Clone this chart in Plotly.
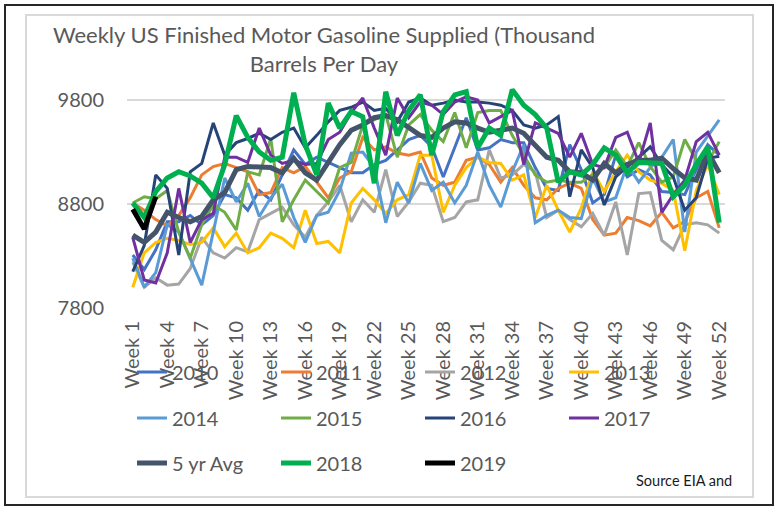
import plotly.graph_objects as go

# ---------------- data ----------------
weeks = list(range(1, 53))
tick_weeks = list(range(1, 53, 3))
tick_labels = ["Week %d" % w for w in tick_weeks]
y_ticks = [7800, 8800, 9800]
y_tick_labels = ["7800", "8800", "9800"]

y2010 = [8310, 8170, 8360, 8630, 8630, 8690, 8600, 8690, 8890, 8860,
         8740, 8930, 8840, 9080, 9320, 9180, 9250, 9200, 9150, 9100,
         9100, 9180, 9220, 9320, 9420, 9460, 9350, 9060, 9350, 9630,
         9320, 9340, 9420, 9390, 9390, 9150, 8950, 8930, 9370, 9130,
         8810, 8890, 9270, 9060, 9130, 9080, 8920, 8910, 8890, 9130,
         9370, 9270]
y2011 = [8810, 8740, 8650, 8590, 8690, 8860, 9080, 9160, 9190, 9150,
         9110, 8890, 8910, 9150, 9100, 9160, 9010, 8860, 9050, 9110,
         9440, 9320, 9350, 9290, 9270, 9300, 9050, 8980, 9010, 9220,
         9250, 9180, 9010, 9150, 8980, 8860, 8840, 8950, 9000, 8950,
         8650, 8500, 8520, 8670, 8640, 8590, 8720, 8570, 8630, 8860,
         8920, 8570]
y2012 = [8240, 8000, 8090, 8020, 8030, 8180, 8480, 8330, 8280, 8380,
         8340, 8650, 8710, 8770, 8600, 8480, 8690, 8820, 8980, 8630,
         8840, 8720, 9130, 8680, 8820, 9000, 8980, 8630, 8670, 8820,
         8840, 9320, 9050, 9080, 9180, 9110, 8670, 8740, 8650, 8580,
         8710, 8500, 8820, 8310, 8900, 8910, 8450, 8360, 8600, 8620,
         8600, 8520]
y2013 = [8000, 8330, 8430, 8470, 8450, 8410, 8430, 8570, 8390, 8520,
         8330, 8380, 8520, 8470, 8380, 8740, 8420, 8440, 8330, 8810,
         8950, 8840, 8710, 8840, 8890, 9270, 9270, 8720, 8980, 9150,
         9250, 9200, 9190, 9030, 9080, 8670, 8980, 8740, 8530, 8760,
         9110, 8920, 9110, 9270, 9110, 9030, 9000, 8930, 8350, 8930,
         9180, 8890]
y2014 = [8280, 8000, 8140, 8600, 8530, 8280, 8020, 8530, 9050, 8820,
         9000, 8680, 8860, 8990, 8670, 8430, 8690, 8720, 8930, 9290,
         9300, 9150, 8620, 9010, 8810, 9190, 8930, 9010, 8810, 8980,
         9300, 8980, 8770, 9110, 9370, 8620, 8690, 8740, 8670, 8660,
         9050, 8820, 8860, 9180, 9010, 9150, 9250, 9420, 8530, 9300,
         9460, 9610]
y2015 = [8810, 8870, 8850, 8930, 8530, 8280, 8600, 8790, 8720, 8550,
         9110, 9080, 9430, 8630, 8840, 9030, 8920, 8810, 9150, 9200,
         9560, 9610, 9660, 9250, 9560, 9660, 9510, 9400, 9680, 9340,
         9680, 9700, 9700, 9460, 9270, 9080, 9010, 9030, 9010, 9010,
         9080, 9150, 9320, 9160, 9390, 9160, 9010, 9060, 9420, 9220,
         9200, 9400]
y2016 = [8150, 8400, 9080, 8950, 8310, 9110, 9190, 9580, 9270, 9390,
         9430, 9480, 9420, 9490, 9530, 9340, 9460, 9590, 9700, 9730,
         9780, 9700, 9720, 9590, 9780, 9820, 9750, 9770, 9800, 9780,
         9780, 9770, 9750, 9700, 9560, 9530, 9560, 9640, 8870, 9320,
         9150, 8790, 9060, 9160, 9250, 9350, 9180, 9060, 8740, 8860,
         9240, 9260]
y2017 = [8480, 8070, 8040, 8330, 8950, 8430, 8650, 8710, 9250, 9250,
         9200, 9530, 9270, 9190, 9220, 9180, 9190, 9420, 9490, 9680,
         9820, 9530, 9270, 9820, 9630, 9780, 9750, 9660, 9780, 9830,
         9800, 9580, 9640, 9700, 9180, 9580, 9530, 9480, 9250, 9480,
         9180, 9150, 9440, 9490, 9200, 9580, 8720, 8890, 9030, 9400,
         9490, 9270]
y5yr = [8500, 8430, 8530, 8720, 8670, 8630, 8680, 8840, 8910, 9130,
        9160, 9160, 9150, 9100, 9240, 9100, 9030, 9200, 9370, 9510,
        9560, 9630, 9650, 9610, 9530, 9460, 9440, 9530, 9590, 9580,
        9530, 9490, 9510, 9530, 9480, 9370, 9250, 9220, 9110, 9100,
        9030, 9190, 9100, 9180, 9220, 9220, 9240, 9140, 9050, 9030,
        9300, 9100]
y2018 = [8810, 8670, 8920, 9050, 9110, 9070, 9000, 8860, 9180, 9650,
         9440, 9300, 9220, 9250, 9870, 9370, 9080, 9770, 9530, 9690,
         9640, 9000, 9880, 9460, 9700, 9850, 9270, 9690, 9850, 9880,
         9340, 9530, 9460, 9900, 9750, 9660, 9530, 9010, 9110, 9080,
         9180, 9340, 9270, 9100, 9200, 9190, 9190, 8870, 8980, 9180,
         9350, 8620]
y2019 = [8750, 8560, 8870]

series = [
    ("2010", y2010, "#4472C4", 3, "legend"),
    ("2011", y2011, "#ED7D31", 3, "legend"),
    ("2012", y2012, "#A5A5A5", 3, "legend"),
    ("2013", y2013, "#FFC000", 3, "legend"),
    ("2014", y2014, "#5B9BD5", 3, "legend2"),
    ("2015", y2015, "#70AD47", 3, "legend2"),
    ("2016", y2016, "#264478", 3, "legend2"),
    ("2017", y2017, "#7030A0", 3, "legend2"),
    ("5 yr Avg", y5yr, "#44546A", 5, "legend3"),
    ("2018", y2018, "#00B050", 5, "legend3"),
    ("2019", y2019, "#000000", 5, "legend3"),
]

fig = go.Figure()
for name, vals, color, width, leg in series:
    fig.add_trace(go.Scatter(
        x=weeks[:len(vals)], y=vals, mode="lines", name=name,
        line=dict(color=color, width=width), legend=leg,
        hoverinfo="skip"))

# ---------------- layout ----------------
W, H = 775, 507
L, T, R, B = 127, 79, 50, 199
pw, ph = W - L - R, H - T - B


def px(x):
    return (x - L) / pw


def py(y):
    return (H - B - y) / ph


font_fam = "Lato"
txt_col = "#595959"

leg_common = dict(orientation="h", xanchor="left", yanchor="middle",
                  bgcolor="rgba(0,0,0,0)", borderwidth=0,
                  font=dict(family=font_fam, size=20, color=txt_col),
                  entrywidth=99, entrywidthmode="pixels",
                  traceorder="normal", itemclick=False)

fig.update_layout(
    width=W, height=H,
    margin=dict(l=L, r=R, t=T, b=B, pad=0),
    paper_bgcolor="white", plot_bgcolor="white",
    font=dict(family=font_fam, color=txt_col),
    title=dict(text="Weekly US Finished Motor Gasoline Supplied (Thousand<br>Barrels Per Day",
               x=324 / W, xanchor="center", xref="container",
               y=1 - 43 / H, yanchor="top", yref="container",
               font=dict(family=font_fam, size=22, color=txt_col)),
    xaxis=dict(range=[0.5, 52.5], tickmode="array", tickvals=tick_weeks,
               ticktext=tick_labels, tickangle=-90, showgrid=False,
               zeroline=False, showline=False, ticks="",
               tickfont=dict(family=font_fam, size=20, color=txt_col),
               ticklabelstandoff=8, fixedrange=True),
    yaxis=dict(range=[7800, 10002], tickmode="array", tickvals=y_ticks,
               ticktext=y_tick_labels,
               showgrid=True, gridcolor="#D9D9D9", gridwidth=1.5,
               zeroline=False, showline=False, ticks="",
               tickfont=dict(family=font_fam, size=20, color=txt_col),
               ticklabelstandoff=22, fixedrange=True),
    legend=dict(leg_common, x=px(132), y=py(372)),
    legend2=dict(leg_common, x=px(132), y=py(418)),
    legend3=dict(leg_common, x=px(132), y=py(463)),
    shapes=[
        dict(type="rect", xref="paper", yref="paper",
             x0=px(5), x1=px(773), y0=py(505), y1=py(5),
             line=dict(color="#262626", width=2), layer="below"),
        dict(type="rect", xref="paper", yref="paper",
             x0=px(26), x1=px(753), y0=py(497), y1=py(15),
             line=dict(color="#D9D9D9", width=2), layer="below"),
    ],
    annotations=[
        dict(text="Source EIA and", xref="paper", yref="paper",
             x=px(634), y=py(481), xanchor="left", yanchor="middle",
             showarrow=False,
             font=dict(family=font_fam, size=14.5, color="#1a1a1a")),
    ],
    showlegend=True,
)

# remove the page's default body margin so the figure fills the window exactly
fig.write_html("out.html",
               config={"displayModeBar": False, "staticPlot": False},
               post_script="document.body.style.margin='0px';")
